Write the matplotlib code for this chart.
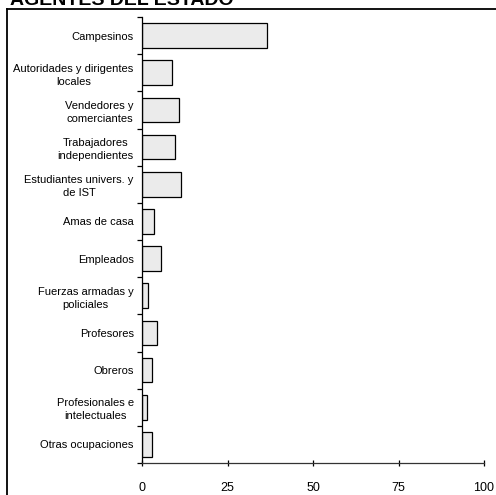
import matplotlib
matplotlib.use('Agg')
import matplotlib.pyplot as plt
from matplotlib.lines import Line2D

plt.rcParams['font.family'] = ['Liberation Sans', 'DejaVu Sans']

# Occupation categories, top to bottom
categories = [
    "Campesinos",
    "Autoridades y dirigentes\nlocales",
    "Vendedores y\ncomerciantes",
    "Trabajadores\nindependientes",
    "Estudiantes univers. y\nde IST",
    "Amas de casa",
    "Empleados",
    "Fuerzas armadas y\npoliciales",
    "Profesores",
    "Obreros",
    "Profesionales e\nintelectuales",
    "Otras ocupaciones",
]
values = [36.5, 8.8, 10.8, 9.6, 11.4, 3.5, 5.6, 1.8, 4.4, 2.9, 1.5, 3.0]
x_ticks = [0, 25, 50, 75, 100]

W, H = 496, 495
fig = plt.figure(figsize=(W / 100, H / 100), dpi=100)
ax = fig.add_axes([142 / W, 1 - 463 / H, 342 / W, 446 / H])

n = len(categories)
pos = list(range(n))
ax.barh(pos, values, height=0.66, color='#ebebeb', edgecolor='black', linewidth=0.9)

ax.set_xlim(0, 100)
ax.set_ylim(n - 0.5, -0.5)
ax.set_xticks(x_ticks)
ax.set_xticklabels([str(t) for t in x_ticks], fontsize=9)

# category labels centred on bars, tick marks at the boundaries
ax.set_yticks(pos)
ax.set_yticklabels(categories, fontsize=8, multialignment='center', linespacing=1.35)
ax.tick_params(axis='y', which='major', length=0, pad=6)
ax.set_yticks([i - 0.5 for i in range(n + 1)], minor=True)
ax.tick_params(axis='y', which='minor', length=3.5, width=0.9, direction='out')
ax.tick_params(axis='x', length=5, width=0.9, direction='inout', pad=11)

for s in ['top', 'right']:
    ax.spines[s].set_visible(False)
ax.spines['left'].set_linewidth(0.9)
ax.spines['bottom'].set_linewidth(0.9)
ax.spines['bottom'].set_color('#333333')

# outer frame (left and top edges visible)
fl, ft = 7 / W, 1 - 9 / H
fig.add_artist(Line2D([fl, fl], [0, ft], transform=fig.transFigure, color='black', lw=1.3))
fig.add_artist(Line2D([fl, 1], [ft, ft], transform=fig.transFigure, color='black', lw=1.3))

fig.text(10 / W, 1 - 5 / H, "AGENTES DEL ESTADO", fontsize=14, fontweight='bold',
         ha='left', va='baseline')

fig.savefig('out.png', dpi=100)
